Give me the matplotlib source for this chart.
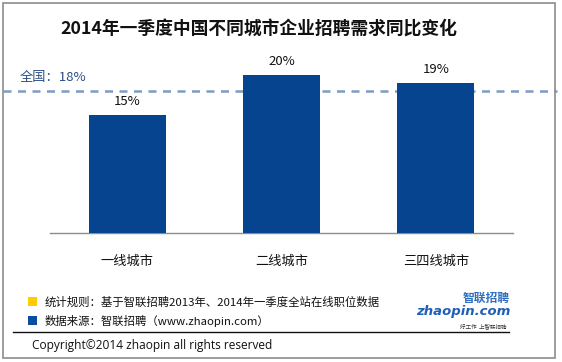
import matplotlib
matplotlib.use("Agg")
import matplotlib.pyplot as plt
from matplotlib.patches import Rectangle
from matplotlib.lines import Line2D

plt.rcParams['font.family'] = ['Noto Sans CJK SC', 'DejaVu Sans']

categories = ['一线城市', '二线城市', '三四线城市']
values = [15, 20, 19]
value_labels = ['15%', '20%', '19%']
national = 18
national_label = '全国：18%'
title = '2014年一季度中国不同城市企业招聘需求同比变化'
note1 = '统计规则：基于智联招聘2013年、2014年一季度全站在线职位数据'
note2 = '数据来源：智联招聘（www.zhaopin.com）'
copyright_text = 'Copyright©2014 zhaopin all rights reserved'

W, H = 562, 362
fig = plt.figure(figsize=(W / 100, H / 100), dpi=100)

def fx(px):
    return px / W

def fy(py):
    return 1 - py / H

# outer border
fig.patches.append(Rectangle((fx(3), fy(358)), fx(552), (355) / H, transform=fig.transFigure,
                             fill=False, edgecolor='#8c8c8c', linewidth=1.2))

ymax = 25
px_per = 7.9
ax_h = ymax * px_per
ax = fig.add_axes([fx(50), fy(233), fx(463), ax_h / H])
x = list(range(len(categories)))
bar_color = '#07448f'
ax.bar(x, values, width=0.5, color=bar_color, zorder=3)
ax.set_xlim(-0.5, len(categories) - 0.5)
ax.set_ylim(0, ymax)
for s in ['top', 'right', 'left']:
    ax.spines[s].set_visible(False)
ax.spines['bottom'].set_color('#8c8c8c')
ax.spines['bottom'].set_linewidth(1.0)
ax.set_yticks([])
ax.set_xticks(x)
ax.set_xticklabels(categories, fontsize=9.5, color='#111111')
ax.tick_params(axis='x', length=0, pad=16)

for xi, v, lab in zip(x, values, value_labels):
    ax.annotate(lab, (xi, v), xytext=(0, 5), textcoords='offset points',
                ha='center', va='bottom', fontsize=9.5, color='#111111')

# national dashed line extending beyond axes
trans = ax.get_yaxis_transform()
ax.add_line(Line2D([(3 - 50) / 463, (557 - 50) / 463], [national, national], transform=trans,
                   clip_on=False, color='#7f9bc2', linewidth=1.8, linestyle=(0, (3.2, 2.6)),
                   zorder=2))
fig.text(fx(20), fy(77), national_label, ha='left', va='center', fontsize=9.5, color='#2b4f86')

fig.text(fx(259), fy(30), title, ha='center', va='center', fontsize=12.8,
         fontweight='bold', color='#111111')

# footer
fig.patches.append(Rectangle((fx(28), fy(306)), fx(9), 9 / H, transform=fig.transFigure,
                             facecolor='#ffcc00', edgecolor='none'))
fig.patches.append(Rectangle((fx(28), fy(325)), fx(9), 9 / H, transform=fig.transFigure,
                             facecolor='#0a4f9f', edgecolor='none'))
fig.text(fx(45), fy(302), note1, ha='left', va='center', fontsize=8.2, color='#111111')
fig.text(fx(45), fy(321), note2, ha='left', va='center', fontsize=8.2, color='#111111')
fig.add_artist(Line2D([fx(13), fx(509)], [fy(332), fy(332)], transform=fig.transFigure,
                      color='#111111', linewidth=1.0))
fig.text(fx(32), fy(345), copyright_text, ha='left', va='center', fontsize=8.6,
         color='#111111', family=['Open Sans', 'DejaVu Sans'])

# logo approximation
fig.text(fx(510), fy(298), '智联招聘', ha='right', va='center', fontsize=8.5,
         fontweight='bold', style='italic', color='#2f6fc0')
fig.text(fx(510), fy(312), 'zhaopin.com', ha='right', va='center', fontsize=9.5,
         fontweight='bold', style='italic', color='#1f5fb5',
         family=['DejaVu Sans'])
fig.text(fx(506), fy(326), '好工作  上智联招聘', ha='right', va='center', fontsize=4,
         color='#333333')

fig.savefig('out.png', dpi=100)
